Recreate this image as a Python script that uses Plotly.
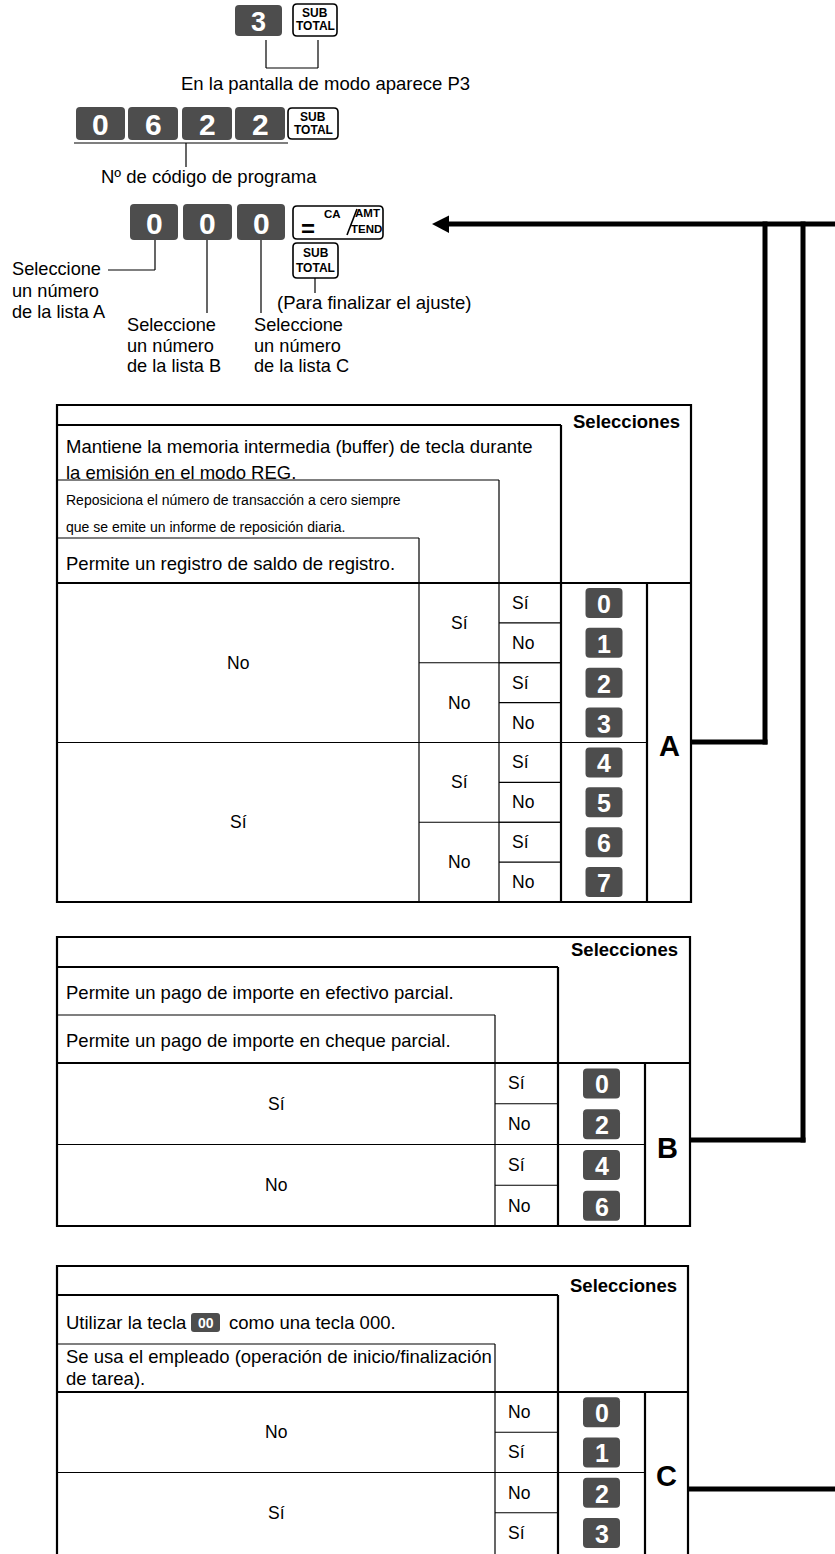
import plotly.graph_objects as go

# ------------------------------------------------------------------ data
step1_keys = ["3"]
step1_note = "En la pantalla de modo aparece P3"
step2_keys = ["0", "6", "2", "2"]
step2_note = "Nº de código de programa"
step3_keys = ["0", "0", "0"]
finish_note = "(Para finalizar el ajuste)"
pick_A = ["Seleccione", "un número", "de la lista A"]
pick_B = ["Seleccione", "un número", "de la lista B"]
pick_C = ["Seleccione", "un número", "de la lista C"]

sel_title = "Selecciones"

tabA_head = [["Mantiene la memoria intermedia (buffer) de tecla durante", "la emisión en el modo REG."],
             ["Reposiciona el número de transacción a cero siempre", "que se emite un informe de reposición diaria."],
             ["Permite un registro de saldo de registro."]]
tabA_lvl1 = ["No", "Sí"]
tabA_lvl2 = ["Sí", "No", "Sí", "No"]
tabA_lvl3 = ["Sí", "No", "Sí", "No", "Sí", "No", "Sí", "No"]
tabA_keys = ["0", "1", "2", "3", "4", "5", "6", "7"]

tabB_head = [["Permite un pago de importe en efectivo parcial."],
             ["Permite un pago de importe en cheque parcial."]]
tabB_lvl1 = ["Sí", "No"]
tabB_lvl2 = ["Sí", "No", "Sí", "No"]
tabB_keys = ["0", "2", "4", "6"]

tabC_head = [["Utilizar la tecla", "como una tecla 000."],
             ["Se usa el empleado (operación de inicio/finalización", "de tarea)."]]
tabC_inline_key = "00"
tabC_lvl1 = ["No", "Sí"]
tabC_lvl2 = ["No", "Sí", "No", "Sí"]
tabC_keys = ["0", "1", "2", "3"]

# ------------------------------------------------------------------ style
W, H = 835, 1554
FONT = "Liberation Sans, Arial, Helvetica, sans-serif"
DARK = "#4d4d4d"
THICK, THIN, CONN = 2.2, 1.2, 5
HEAD = 18.5   # header sentence size
CELL = 17.5   # Sí / No size

shapes, anns = [], []


def line(x0, y0, x1, y1, w=THIN, color="black"):
    shapes.append(dict(type="line", xref="x", yref="y", x0=x0, y0=y0, x1=x1, y1=y1,
                       line=dict(color=color, width=w)))


def rrect(x0, y0, x1, y1, r, fill, lc=None, lw=0):
    p = (f"M{x0+r},{y0} L{x1-r},{y0} Q{x1},{y0} {x1},{y0+r} L{x1},{y1-r} Q{x1},{y1} {x1-r},{y1} "
         f"L{x0+r},{y1} Q{x0},{y1} {x0},{y1-r} L{x0},{y0+r} Q{x0},{y0} {x0+r},{y0} Z")
    shapes.append(dict(type="path", xref="x", yref="y", path=p, fillcolor=fill,
                       line=dict(color=lc if lc else fill, width=lw)))


def text(x, y, s, size=18, anchor="left", bold=False, color="black", family=FONT):
    anns.append(dict(x=x, y=y, xref="x", yref="y", text=f"<b>{s}</b>" if bold else s,
                     showarrow=False, xanchor=anchor, yanchor="middle", borderpad=0,
                     font=dict(family=family, size=size, color=color)))


def dkey(x0, y0, x1, y1, label, size):
    rrect(x0, y0, x1, y1, 4, DARK)
    text((x0 + x1) / 2, (y0 + y1) / 2 + 1, label, size, "center", True, "white")


def subtotal(x0, y0, x1, y1):
    rrect(x0, y0, x1, y1, 4, "white", "black", 1.6)
    h = y1 - y0
    text((x0 + x1) / 2, y0 + h * 0.28, "SUB", 12, "center", True)
    text((x0 + x1) / 2, y0 + h * 0.70, "TOTAL", 12, "center", True)


# ------------------------------------------------------------------ top key sequence
# step 1
k1 = [(235, 282)]
for (a, b), lab in zip(k1, step1_keys):
    dkey(a, 5, b, 36, lab, 27)
subtotal(293, 4, 337, 36)
line(266, 40, 266, 68); line(318, 40, 318, 68); line(266, 68, 318, 68)
text(180, 83, step1_note, 18.5)

# step 2
k2 = [(76, 125), (128, 178), (182, 232), (235, 285)]
for (a, b), lab in zip(k2, step2_keys):
    dkey(a, 107, b, 140, lab, 30)
subtotal(288, 108, 338, 139)
line(74, 143, 288, 143); line(186, 143, 186, 167)
text(100, 176, step2_note, 18.5)

# step 3
k3 = [(130, 178), (183, 232), (237, 285)]
for (a, b), lab in zip(k3, step3_keys):
    dkey(a, 204, b, 240, lab, 30)
# = CA/AMT TEND key
rrect(293, 206, 383, 239, 4, "white", "black", 1.6)
text(308, 228, "=", 24, "center", True)
text(332, 214, "CA", 11.5, "center", True)
line(357, 209, 347, 235, 1.6)
text(367, 213, "AMT", 11.5, "center", True)
text(366, 229, "TEND", 11.5, "center", True)
subtotal(293, 243, 338, 278)
line(315, 278, 315, 293)
text(276, 302, finish_note, 18.5)

# pointers to lists
line(155, 240, 155, 270); line(108, 270, 155, 270)
for i, s in enumerate(pick_A):
    text(11, 269 + 21.5 * i, s, 18.2)
line(207, 240, 207, 313)
for i, s in enumerate(pick_B):
    text(126, 325 + 20.5 * i, s, 18.2)
line(261, 240, 261, 313)
for i, s in enumerate(pick_C):
    text(253, 325 + 20.5 * i, s, 18.2)

# arrow and connectors
shapes.append(dict(type="path", xref="x", yref="y", path="M432,224 L449,215.5 L449,233 Z",
                   fillcolor="black", line=dict(color="black", width=0)))
line(447, 224, 840, 224, CONN)
line(765, 221.5, 765, 744.5, CONN); line(691, 742, 767.5, 742, CONN)
line(803, 221.5, 803, 1142.5, CONN); line(690, 1140, 805.5, 1140, CONN)
line(840, 221.5, 840, 1491.5, CONN); line(688, 1489, 842, 1489, CONN)


# ------------------------------------------------------------------ tables
def draw_table(g, levels, keys, letter):
    L, R, T, B, body = g["left"], g["right"], g["top"], g["bottom"], g["body"]
    n = len(keys)
    rh = (B - body) / n
    num_l, let_l = g["box_rights"][0], g["letter_l"]
    # outer border
    line(L, T, R, T, THICK); line(L, T - 1, L, B + 1, THICK); line(R, T - 1, R, B + 1, THICK)
    if g["bottom_line"]:
        line(L - 1, B, R + 1, B, THICK)
    # stepped header boxes, whose right edges continue as column lines
    for i, (bt, br) in enumerate(zip(g["box_tops"], g["box_rights"])):
        w = THICK if i == 0 else THIN
        line(L, bt, br, bt, w)
        line(br, bt, br, B + 1, w)
    line(L, body, R, body, THICK)
    line(let_l, body, let_l, B + 1, THICK)
    text((num_l + R) / 2, g["title_y"], sel_title, 18.5, "center", True)
    # header texts
    for lines, ys, size in g["head"]:
        for s, y in zip(lines, ys):
            text(L + 8, y, s, size)
    # body columns
    edges = [L] + list(reversed(g["box_rights"]))
    for li, labels in enumerate(levels):
        xl, xr = edges[li], edges[li + 1]
        span = n // len(labels)
        last = li == len(levels) - 1
        for j, lab in enumerate(labels):
            y0 = body + j * span * rh
            y1 = y0 + span * rh
            if last:
                text(xl + 12, (y0 + y1) / 2, lab, CELL)
            else:
                text((xl + xr) / 2, (y0 + y1) / 2, lab, CELL, "center")
            if j > 0:
                xend = let_l if li == 0 else num_l
                line(xl, y0, xend, y0, THIN)
    # keys and letter
    kc = (num_l + let_l) / 2
    for j, k in enumerate(keys):
        yc = body + (j + 0.5) * rh
        dkey(kc - 18.5, yc - 15, kc + 18.5, yc + 15, k, 25)
    text((let_l + R) / 2, (body + B) / 2 + 3, letter, 29, "center", True)


geoA = dict(left=57, right=691, top=405, bottom=902, body=583, letter_l=647,
            box_tops=[425, 480, 538], box_rights=[561, 499, 419], title_y=421,
            head=[(tabA_head[0], [446, 472], HEAD),
                  (tabA_head[1], [500, 527], 14),
                  (tabA_head[2], [563], HEAD)],
            bottom_line=True)
draw_table(geoA, [tabA_lvl1, tabA_lvl2, tabA_lvl3], tabA_keys, "A")

geoB = dict(left=57, right=690, top=937, bottom=1226, body=1063, letter_l=645,
            box_tops=[967, 1015], box_rights=[558, 495], title_y=949,
            head=[(tabB_head[0], [992], HEAD),
                  (tabB_head[1], [1040], HEAD)],
            bottom_line=True)
draw_table(geoB, [tabB_lvl1, tabB_lvl2], tabB_keys, "B")

geoC = dict(left=57, right=688, top=1266, bottom=1553, body=1392, letter_l=645,
            box_tops=[1295, 1344], box_rights=[558, 495], title_y=1285,
            head=[([tabC_head[0][0]], [1322], HEAD),
                  (tabC_head[1], [1356, 1378], HEAD)],
            bottom_line=False)
draw_table(geoC, [tabC_lvl1, tabC_lvl2], tabC_keys, "C")
rrect(191, 1313, 220, 1332, 3, DARK)
text(205.5, 1323, tabC_inline_key, 14, "center", True, "white")
text(228, 1322, tabC_head[0][1], HEAD)

# ------------------------------------------------------------------ figure
fig = go.Figure()
fig.add_trace(go.Scatter(x=[0, W], y=[0, H], mode="markers", marker=dict(opacity=0),
                         hoverinfo="skip", showlegend=False))
fig.update_layout(
    width=W, height=H, autosize=False,
    margin=dict(l=0, r=0, t=0, b=0, pad=0),
    paper_bgcolor="white", plot_bgcolor="white",
    xaxis=dict(range=[0, W], visible=False, fixedrange=True),
    yaxis=dict(range=[H, 0], visible=False, fixedrange=True),
    shapes=shapes, annotations=anns, showlegend=False,
)
fig.write_html("out.html", config={"displayModeBar": False},
               post_script="document.body.style.margin='0';document.body.style.overflow='hidden';")
